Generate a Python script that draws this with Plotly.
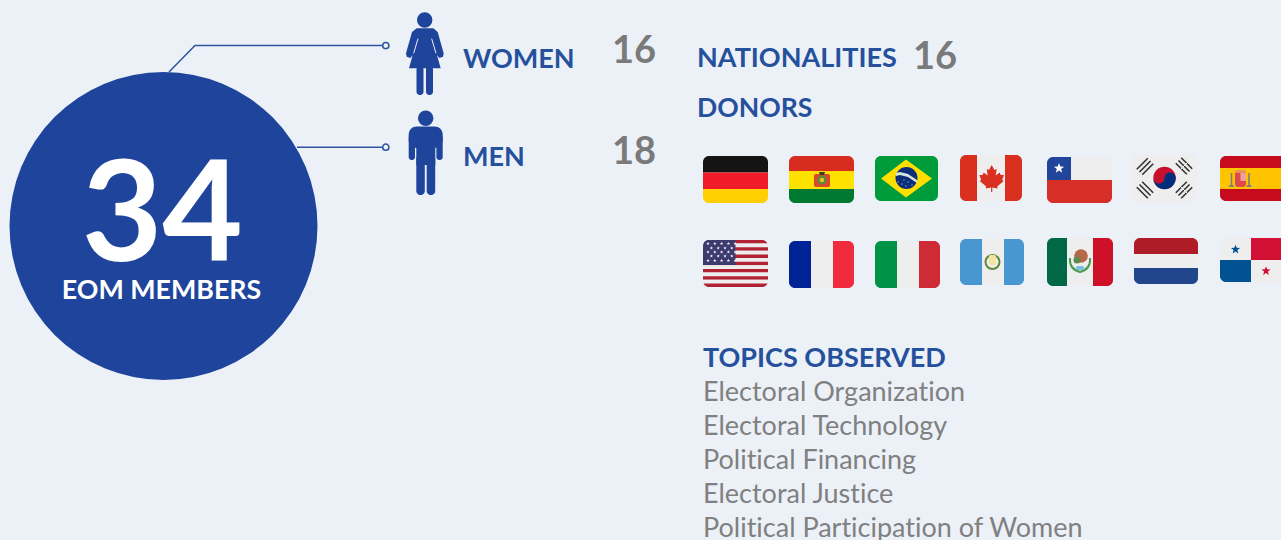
import math
import plotly.graph_objects as go

# ---------- data ----------
total_members = ["34"]
total_label = ["EOM MEMBERS"]
gender_labels = ["WOMEN", "MEN"]
gender_values = ["16", "18"]
nationalities_label = ["NATIONALITIES"]
nationalities_value = ["16"]
donors_label = ["DONORS"]
topics_title = ["TOPICS OBSERVED"]
topics = ["Electoral Organization", "Electoral Technology", "Political Financing",
          "Electoral Justice", "Political Participation of Women"]

BG = "#ecf1f8"
BLUE = "#1f449b"
TXT = "#25509c"
GRAY = "#7a7a7a"
LGRAY = "#808080"
FONT = "Lato, 'Open Sans', sans-serif"

shapes = []

def poly(points, color):
    d = "M" + "L".join(f"{x:.2f},{y:.2f}" for x, y in points) + "Z"
    shapes.append(dict(type="path", path=d, fillcolor=color, line=dict(width=0),
                       xref="x", yref="y", layer="below"))

def circle(cx, cy, r, color):
    shapes.append(dict(type="circle", x0=cx - r, x1=cx + r, y0=cy - r, y1=cy + r,
                       fillcolor=color, line=dict(width=0), xref="x", yref="y", layer="below"))

def line(pts, color, w):
    d = "M" + "L".join(f"{x:.2f},{y:.2f}" for x, y in pts)
    shapes.append(dict(type="path", path=d, line=dict(color=color, width=w),
                       xref="x", yref="y", layer="below"))

def rrect_pts(x0, y0, x1, y1, r, n=8):
    pts = []
    for cx, cy, a0 in ((x1 - r, y0 + r, -90), (x1 - r, y1 - r, 0), (x0 + r, y1 - r, 90), (x0 + r, y0 + r, 180)):
        for i in range(n + 1):
            a = math.radians(a0 + 90 * i / n)
            pts.append((cx + r * math.cos(a), cy + r * math.sin(a)))
    return pts

def clip(subject, clipper):
    def inside(p, a, b):
        return (b[0] - a[0]) * (p[1] - a[1]) - (b[1] - a[1]) * (p[0] - a[0]) >= -1e-9
    def inter(p, q, a, b):
        d1 = (p[0] - q[0], p[1] - q[1])
        d2 = (a[0] - b[0], a[1] - b[1])
        den = d1[0] * d2[1] - d1[1] * d2[0]
        c1 = p[0] * q[1] - p[1] * q[0]
        c2 = a[0] * b[1] - a[1] * b[0]
        return ((c1 * d2[0] - c2 * d1[0]) / den, (c1 * d2[1] - c2 * d1[1]) / den)
    out = subject
    for i in range(len(clipper)):
        a, b = clipper[i], clipper[(i + 1) % len(clipper)]
        if a == b:
            continue
        inp, out = out, []
        for j in range(len(inp)):
            p, q = inp[j], inp[(j + 1) % len(inp)]
            if inside(q, a, b):
                if not inside(p, a, b):
                    out.append(inter(p, q, a, b))
                out.append(q)
            elif inside(p, a, b):
                out.append(inter(p, q, a, b))
        if not out:
            break
    return out

def stripes_h(box, ys, colors, r=6):
    x0, y0, x1, y1 = box
    rr = rrect_pts(x0, y0, x1, y1, r)
    for i, c in enumerate(colors):
        poly(clip([(x0, ys[i]), (x1, ys[i]), (x1, ys[i + 1]), (x0, ys[i + 1])], rr), c)

def stripes_v(box, xs, colors, r=6):
    x0, y0, x1, y1 = box
    rr = rrect_pts(x0, y0, x1, y1, r)
    for i, c in enumerate(colors):
        poly(clip([(xs[i], y0), (xs[i + 1], y0), (xs[i + 1], y1), (xs[i], y1)], rr), c)

def star(cx, cy, r, color):
    pts = []
    for i in range(10):
        a = math.radians(-90 + 36 * i)
        rad = r if i % 2 == 0 else r * 0.42
        pts.append((cx + rad * math.cos(a), cy + rad * math.sin(a)))
    poly(pts, color)

def Z(px, py, ox=370, oy=0):
    return [(ox + x / 3, oy + y / 3) for x, y in zip(px, py)]

# ---------- big circle and connectors ----------
line([(169, 72), (195, 45.5), (384, 45.5)], "#2c559d", 1.5)
line([(297, 147.2), (384, 147.2)], "#2c559d", 1.5)
circle(163.5, 226, 154, BLUE)
for cy in (45.6, 147.2):
    shapes.append(dict(type="circle", x0=382.7, x1=388.9, y0=cy - 3.1, y1=cy + 3.1, fillcolor=BG,
                       line=dict(color="#2c559d", width=1.5), xref="x", yref="y", layer="below"))

# ---------- woman icon ----------
circle(424.7, 20, 7.7, BLUE)
poly(Z([140, 190, 203, 221, 219, 208, 201, 212, 117, 128, 121, 110, 108, 126],
       [85, 85, 96, 160, 170, 174, 165, 205, 205, 165, 174, 170, 160, 96]), BLUE)
line(Z([144, 131], [116, 160]), BG, 1)
line(Z([185, 198], [116, 160]), BG, 1)
poly(rrect_pts(416.5, 66, 423.5, 95, 3.4), BLUE)
poly(rrect_pts(426, 66, 433, 95, 3.4), BLUE)

# ---------- man icon ----------
circle(425.7, 118.3, 7.7, BLUE)
poly(rrect_pts(408.7, 126.5, 442.7, 148, 8), BLUE)
poly(rrect_pts(408.7, 135, 415, 160, 3), BLUE)
poly(rrect_pts(436.4, 135, 442.7, 160, 3), BLUE)
poly(rrect_pts(416.3, 128, 435.3, 165, 0.1, 1), BLUE)
poly(rrect_pts(416.3, 155, 424.8, 195, 4), BLUE)
poly(rrect_pts(426.7, 155, 435.2, 195, 4), BLUE)

# ---------- flags, top row ----------
# Germany
stripes_h((703, 156, 768, 203), [156, 172.5, 189, 203], ["#141414", "#ef1c27", "#ffcf00"])
# Bolivia
b = (789, 156, 854, 203)
stripes_h(b, [156, 171, 189, 203], ["#d62d20", "#ffe100", "#007a33"])
poly(rrect_pts(814, 174, 830, 187, 2), "#d8482a")
circle(822, 180, 4.6, "#5d8a3a")
circle(822, 180, 2.2, "#e8c030")
poly([(819, 172), (825, 172), (824, 175), (820, 175)], "#3a3a2a")
# Brazil
b = (875, 156, 938, 201)
stripes_h(b, [156, 201], ["#009b3a"])
poly([(881, 178.5), (906, 159.5), (932, 178.5), (906, 197.5)], "#fedf00")
circle(906.5, 178, 11, "#0c2e78")
poly([(896, 173), (900, 172), (908, 174), (917, 180), (917, 183), (908, 177), (900, 175), (896, 176)], "#d5e6da")
for x, y in [(898, 182), (902, 184), (906, 186), (908, 182), (912, 185), (904, 180)]:
    circle(x, y, 0.7, "#6fb2e6")
# Canada
b = (960, 155, 1022, 201)
stripes_v(b, [960, 977, 1005, 1022], ["#d82f1e", "#eeeeee", "#d82f1e"])
leaf_r = [(0, 165), (2.7, 170), (5, 169), (4, 175.5), (8, 172.5), (9, 175), (12.3, 175), (10.5, 180), (12, 181),
          (5.5, 186.5), (6, 188.5), (0.6, 187.5), (0.6, 192)]
leaf = [(991.7 + x, y) for x, y in leaf_r] + [(991.7 - x, y) for x, y in reversed(leaf_r)]
poly(leaf, "#d82f1e")
# Chile
b = (1047, 157, 1112, 203)
rr = rrect_pts(*b, 6)
stripes_h(b, [157, 180, 203], ["#eeeeee", "#d52f27"])
poly(clip([(1047, 157), (1071, 157), (1071, 180), (1047, 180)], rr), "#21459b")
star(1059, 168.3, 5.4, "#ffffff")
# Korea
b = (1132, 154, 1197, 202)
stripes_h(b, [154, 202], ["#eeeeee"])
circle(1164.5, 178, 11.2, "#c8102e")
sw = []
for i in range(25):
    a = math.radians(180 * i / 24)
    sw.append((1164.5 - 11.2 * math.cos(a), 178 + 11.2 * math.sin(a)))
for i in range(13):
    a = math.radians(180 * i / 12)
    sw.append((1170.1 + 5.6 * math.cos(a), 178 - 5.6 * math.sin(a)))
for i in range(13):
    a = math.radians(180 * i / 12)
    sw.append((1158.9 + 5.6 * math.cos(a), 178 + 5.6 * math.sin(a)))
poly(sw, "#012f7b")
for cx, cy, s, broken in [(1145, 166.5, 1, False), (1184, 166, -1, True), (1145, 190, -1, False), (1184, 190, 1, True)]:
    for k in (-1, 0, 1):
        ox, oy = k * 2.7, k * 2.7 * s
        dx, dy = 5.5, -5.5 * s
        line([(cx + ox - dx, cy + oy - dy), (cx + ox + dx, cy + oy + dy)], "#333333", 1.6)
    if broken:
        line([(cx - 4.5, cy - 4.5 * s), (cx + 4.5, cy + 4.5 * s)], "#eeeeee", 1)
# Spain
b = (1220, 156, 1287, 201)
stripes_h(b, [156, 168, 189, 201], ["#c60b1e", "#ffc400", "#c60b1e"])
poly(rrect_pts(1235, 171, 1246, 187, 3), "#dd4a4a")
poly([(1240.5, 173), (1246, 173), (1246, 181), (1240.5, 181)], "#f0a0a0")
poly([(1235.5, 170), (1245.5, 170), (1245, 173), (1236, 173)], "#e8935a")
for x in (1231.5, 1249):
    poly([(x - 0.8, 173), (x + 0.8, 173), (x + 0.8, 185), (x - 0.8, 185)], "#7c8080")
    poly([(x - 2.3, 185), (x + 2.3, 185), (x + 2.3, 187), (x - 2.3, 187)], "#7c8080")

# ---------- flags, second row ----------
# USA
b = (703, 240, 768, 287)
rr = rrect_pts(*b, 6)
colors = ["#b22234" if i % 2 == 0 else "#eeeeee" for i in range(13)]
ys = [240 + 47 * i / 13 for i in range(14)]
stripes_h(b, ys, colors)
poly(clip([(703, 240), (735.5, 240), (735.5, 265), (703, 265)], rr), "#3c3b6e")
for r_i, y in enumerate([243.5, 248, 252, 256, 260.5]):
    n = 5 if r_i % 2 == 0 else 4
    off = 0 if r_i % 2 == 0 else 3.4
    for k in range(n):
        star(708 + off + k * 6.8, y, 1.8, "#f4f4f4")
# France
b = (789, 241, 854, 288)
stripes_v(b, [789, 811, 833, 854], ["#002395", "#eeeeee", "#ef2b3c"])
# Italy
b = (875, 241, 940, 288)
stripes_v(b, [875, 897, 919, 940], ["#009246", "#eeeeee", "#ce2b37"])
# Guatemala
b = (960, 239, 1024, 285)
stripes_v(b, [960, 982, 1004, 1024], ["#4997d0", "#eeeeee", "#4997d0"])
shapes.append(dict(type="circle", x0=985.5, x1=999.5, y0=255, y1=269, fillcolor="rgba(0,0,0,0)",
                   line=dict(color="#5f8a3c", width=2), xref="x", yref="y", layer="below"))
poly(rrect_pts(989, 255, 996, 265, 1.5), "#efe4a0")
# Mexico
b = (1047, 238, 1113, 286)
stripes_v(b, [1047, 1067, 1093, 1113], ["#006847", "#eeeeee", "#ce1126"])
circle(1081, 256, 6.8, "#b5694a")
circle(1077, 260, 3.5, "#5e8a4a")
shapes.append(dict(type="path", path="M1070,258 Q1069,269 1080,272 Q1091,269 1090,258",
                   line=dict(color="#4f9a4f", width=2), xref="x", yref="y", layer="below"))
poly(rrect_pts(1076, 266, 1084, 270, 1.5), "#79bfe0")
# Netherlands
b = (1134, 238, 1198, 284)
stripes_h(b, [238, 254, 268, 284], ["#ae1c28", "#eeeeee", "#21468b"])
# Panama
b = (1220, 238, 1287, 282)
rr = rrect_pts(*b, 6)
stripes_h(b, [238, 282], ["#eeeeee"])
poly(clip([(1251, 238), (1287, 238), (1287, 260), (1251, 260)], rr), "#d21034")
poly(clip([(1220, 260), (1251, 260), (1251, 282), (1220, 282)], rr), "#005293")
star(1235.5, 249.5, 4.8, "#005293")
star(1266, 271, 4.8, "#d21034")

# ---------- text ----------
fig = go.Figure()

def text_trace(xs, ys, labels, size, color, bold=False, pos="middle right"):
    fig.add_trace(go.Scatter(
        x=xs, y=ys, text=labels, mode="text", textposition=pos, hoverinfo="skip",
        textfont=dict(family=FONT, size=size, color=color, weight=700 if bold else 400),
        showlegend=False, cliponaxis=False))

text_trace([162.3], [226], total_members, 139, "#ffffff", True, "middle center")
text_trace([161.5], [292], total_label, 26.8, "#ffffff", True, "middle center")
text_trace([463, 463], [61, 159], gender_labels, 27, TXT, True)
text_trace([612, 612], [53.5, 154.5], gender_values, 38, GRAY, True)
text_trace([697, ], [60], nationalities_label, 27, TXT, True)
text_trace([913], [59], nationalities_value, 38, GRAY, True)
text_trace([697], [110], donors_label, 26.6, TXT, True)
text_trace([703], [360], topics_title, 27, TXT, True)
text_trace([703] * 5, [394.3, 428.3, 462.3, 496.3, 530.3], topics, 27, LGRAY)

fig.update_layout(
    width=1281, height=540, margin=dict(l=0, r=0, t=0, b=0),
    paper_bgcolor=BG, plot_bgcolor=BG, showlegend=False, shapes=shapes,
    xaxis=dict(range=[0, 1281], visible=False, fixedrange=True),
    yaxis=dict(range=[540, 0], visible=False, fixedrange=True),
)
page_css = ("document.body.style.margin='0';document.body.style.overflow='hidden';"
            "document.body.style.background='" + BG + "';"
            "var s=document.createElement('style');"
            "s.textContent='svg text{font-variant-ligatures:none;font-feature-settings:\"liga\" 0;}';"
            "document.head.appendChild(s);")
fig.write_html("out.html", config={"displayModeBar": False}, post_script=page_css)
